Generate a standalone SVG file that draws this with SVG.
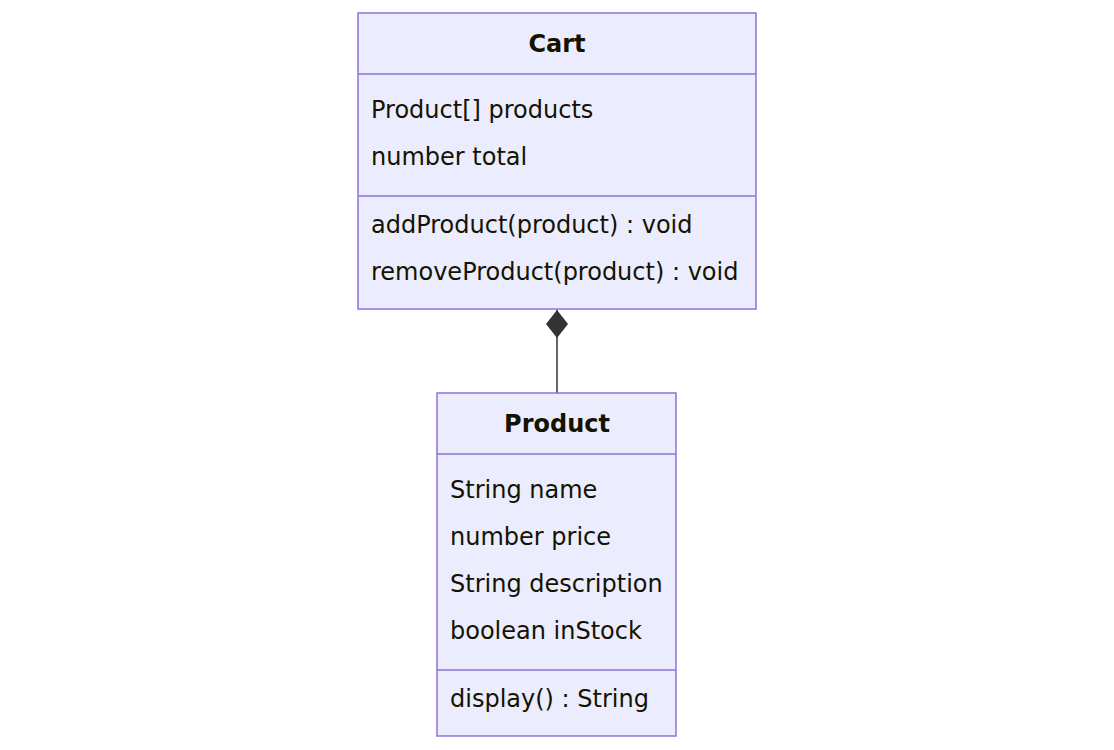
<svg xmlns="http://www.w3.org/2000/svg" width="1114" height="750" viewBox="0 0 1114 750">
<style>
.box{fill:#ECECFF;stroke:#9370DB;stroke-width:1.5}
.div{stroke:#9370DB;stroke-width:1.5}
.t{font-family:"DejaVu Sans",Verdana,sans-serif;font-size:24px;fill:#131300}
.h{font-weight:bold;text-anchor:middle}
.edge{stroke:#333333;stroke-width:1.5;fill:none}
</style>
<defs>
<marker id="comp" viewBox="0 0 24 32" refX="12" refY="1" markerWidth="24" markerHeight="32" markerUnits="userSpaceOnUse" orient="0">
<path d="M12,1 L23,15 L12,29 L1,15 Z" fill="#333333"/>
</marker>
</defs>
<rect width="1114" height="750" fill="#ffffff"/>
<g id="connectors">
<path class="edge" d="M557,393 L557,310" marker-end="url(#comp)"/>
</g>
<g id="Cart">
<rect class="box" x="358" y="13" width="398" height="296"/>
<line class="div" x1="358" y1="74" x2="756" y2="74"/>
<line class="div" x1="358" y1="196" x2="756" y2="196"/>
<text class="t h" x="557" y="52">Cart</text>
<text class="t" x="371" y="118">Product[] products</text>
<text class="t" x="371" y="165">number total</text>
<text class="t" x="371" y="233">addProduct(product) : void</text>
<text class="t" x="371" y="280">removeProduct(product) : void</text>
</g>
<g id="Product">
<rect class="box" x="437" y="393" width="239" height="343"/>
<line class="div" x1="437" y1="454" x2="676" y2="454"/>
<line class="div" x1="437" y1="670" x2="676" y2="670"/>
<text class="t h" x="557" y="432">Product</text>
<text class="t" x="450" y="498">String name</text>
<text class="t" x="450" y="545">number price</text>
<text class="t" x="450" y="592">String description</text>
<text class="t" x="450" y="639">boolean inStock</text>
<text class="t" x="450" y="707">display() : String</text>
</g>
</svg>
